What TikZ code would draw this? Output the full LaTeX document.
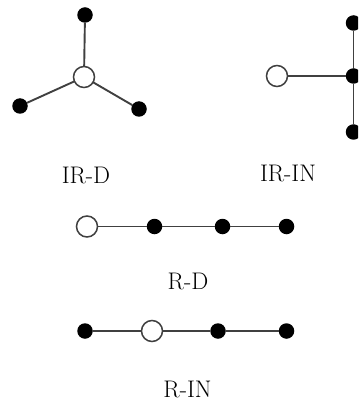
\documentclass[tikz,border=0pt]{standalone}
\begin{document}
\begin{tikzpicture}[x=1pt,y=-1pt,
  every node/.style={inner sep=0pt, outer sep=0pt},
  hub/.style={circle, draw=black!75, line width=1.5pt, fill=white, minimum size=21pt},
  leaf/.style={circle, fill=black, minimum size=15.5pt},
  bond/.style={draw=black!75, line width=1.9pt},
  caption/.style={text=black, font=\fontsize{24}{24}\selectfont}]
\useasboundingbox (0,0) rectangle (358,403);
\begin{scope}
\clip (0,0) rectangle (358,403);

% IR-D: three leaves around a central open vertex
\node[hub]  (a0) at (84,77) {};
\node[leaf] (a1) at (85,15) {};
\node[leaf] (a2) at (20,106) {};
\node[leaf] (a3) at (139,109) {};
\draw[bond] (a0) -- (a1) (a0) -- (a2) (a0) -- (a3);
\node[caption] (la) at (86,175) {IR-D};

% IR-IN: open vertex attached to the middle of a vertical chain
\node[hub]  (b0) at (277,76) {};
\node[leaf] (b1) at (353.5,23) {};
\node[leaf] (b2) at (353.5,76) {};
\node[leaf] (b3) at (353.5,132) {};
\draw[bond] (b0) -- (b2) (b1) -- (b2) -- (b3);
\node[caption] (lb) at (288,173) {IR-IN};

% R-D: open vertex at the end of a chain
\node[hub]  (c0) at (87,226.5) {};
\node[leaf] (c1) at (154.5,226.5) {};
\node[leaf] (c2) at (222.5,226.5) {};
\node[leaf] (c3) at (286.5,226.5) {};
\draw[bond] (c0) -- (c1) -- (c2) -- (c3);
\node[caption] (lc) at (188,281) {R-D};

% R-IN: open vertex inside a chain
\node[leaf] (d1) at (85,331) {};
\node[hub]  (d0) at (152,331) {};
\node[leaf] (d2) at (218,331) {};
\node[leaf] (d3) at (286.5,331) {};
\draw[bond] (d1) -- (d0) -- (d2) -- (d3);
\node[caption] (ld) at (187.5,389) {R-IN};
\end{scope}
\end{tikzpicture}
\end{document}
